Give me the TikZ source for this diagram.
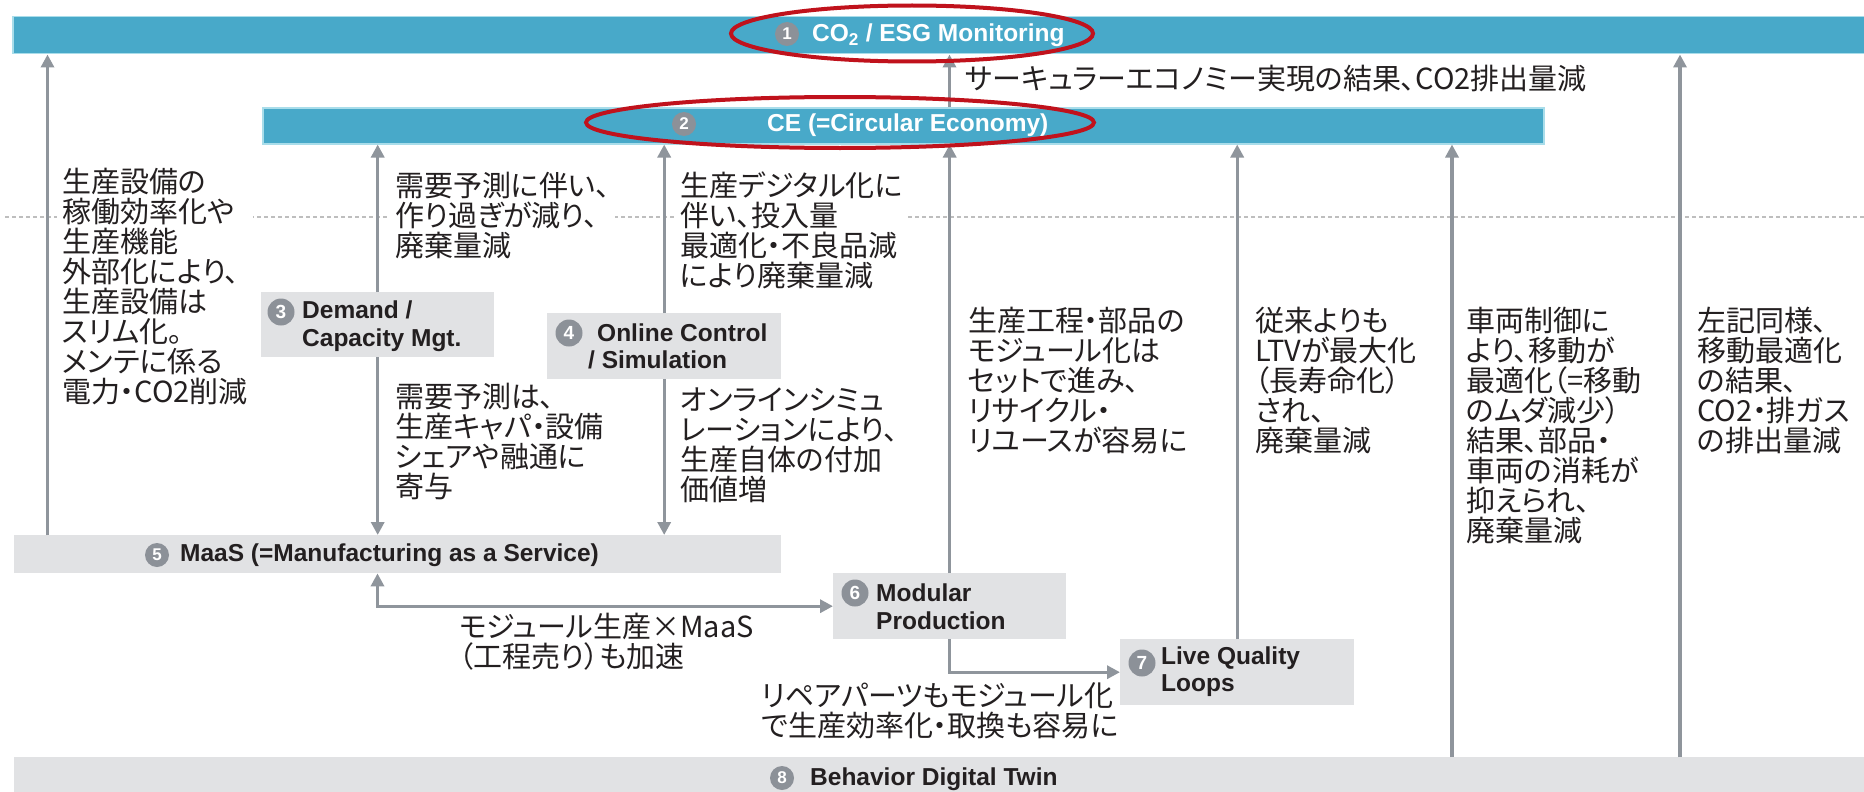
\documentclass[tikz,border=0pt]{standalone}
\usepackage{fontspec}
\setmainfont{Liberation Sans}
\newfontfamily\jpf[RawFeature=+palt]{Noto Sans CJK JP}
\usetikzlibrary{arrows.meta}
\definecolor{barblue}{HTML}{48A9C9}
\definecolor{baredge}{HTML}{A9DDEA}
\definecolor{boxgray}{HTML}{E1E2E4}
\definecolor{badgegray}{HTML}{8C9198}
\definecolor{arrowgray}{HTML}{8F959C}
\definecolor{ringred}{HTML}{C0121C}
\definecolor{dashgray}{HTML}{BEBEBE}
\definecolor{inkblack}{HTML}{231F20}
\begin{document}
\begin{tikzpicture}[x=1pt,y=-1pt,
  bluebar/.style={rectangle, fill=barblue, draw=baredge, line width=1.5pt, inner sep=0pt, anchor=north west},
  graybox/.style={rectangle, fill=boxgray, inner sep=0pt, anchor=north west},
  badge/.style={circle, fill=badgegray, text=white, inner sep=0pt, minimum size=27pt, font=\fontsize{19}{19}\selectfont\bfseries},
  smallbadge/.style={badge, minimum size=24pt, font=\fontsize{17}{17}\selectfont\bfseries},
  bartext/.style={anchor=west, inner sep=0pt, text=white, font=\fontsize{24.5}{27}\selectfont\bfseries},
  boxtext/.style={anchor=west, inner sep=0pt, align=left, text=inkblack, font=\fontsize{24.5}{27.5}\selectfont\bfseries},
  lowtext/.style={boxtext, text=inkblack},
  note/.style={anchor=north west, inner sep=5pt, fill=white, align=left, text=inkblack, font=\jpf\fontsize{29}{30}\selectfont},
  arr/.style={draw=arrowgray, line width=3.3pt, -{Triangle[length=13pt,width=13pt]}},
  arrboth/.style={draw=arrowgray, line width=3.3pt, {Triangle[length=13pt,width=13pt]}-{Triangle[length=13pt,width=13pt]}},
  dashline/.style={draw=dashgray, line width=1.2pt, dash pattern=on 4pt off 3pt},
  ring/.style={draw=ringred, line width=4pt}
]
\useasboundingbox (0,0) rectangle (1864,792);
\fill[white] (0,0) rectangle (1864,792);

% dashed guide line
\coordinate (dl) at (5,217);
\coordinate (dr) at (1864,217);
\draw[dashline] (dl) -- (dr);

% explanatory texts
\node[note] (tleft) at (57,163) {生産設備の\\稼働効率化や\\生産機能\\外部化により、\\生産設備は\\スリム化。\\メンテに係る\\電力・CO2削減};
\node[note] (t3a) at (390,167) {需要予測に伴い、\\作り過ぎが減り、\\廃棄量減};
\node[note] (t3b) at (390,378) {需要予測は、\\生産キャパ・設備\\シェアや融通に\\寄与};
\node[note] (t4a) at (675,167) {生産デジタル化に\\伴い、投入量\\最適化・不良品減\\により廃棄量減};
\node[note] (t4b) at (675,383) {オンラインシミュ\\レーションにより、\\生産自体の付加\\価値増};
\node[note] (t6) at (963,302) {生産工程・部品の\\モジュール化は\\セットで進み、\\リサイクル・\\リユースが容易に};
\node[note] (t7) at (1250,302) {従来よりも\\LTVが最大化\\（長寿命化）\\され、\\廃棄量減};
\node[note] (t8a) at (1461,302) {車両制御に\\より、移動が\\最適化（=移動\\のムダ減少）\\結果、部品・\\車両の消耗が\\抑えられ、\\廃棄量減};
\node[note] (t8b) at (1692,302) {左記同様、\\移動最適化\\の結果、\\CO2・排ガス\\の排出量減};
\node[note] (t56) at (454,608) {モジュール生産×MaaS\\（工程売り）も加速};
\node[note] (t67) at (756,677) {リペアパーツもモジュール化\\で生産効率化・取換も容易に};
\node[note] (ttop) at (960,60) {サーキュラーエコノミー実現の結果、CO2排出量減};

% bars and boxes
\node[bluebar, minimum width=1860pt, minimum height=37pt] (b1) at (12,16) {};
\node[bluebar, minimum width=1281pt, minimum height=36pt] (b2) at (262,107) {};
\node[graybox, minimum width=233pt, minimum height=65pt] (box3) at (261,292) {};
\node[graybox, minimum width=234pt, minimum height=66pt] (box4) at (547,313) {};
\node[graybox, minimum width=767pt, minimum height=38pt] (b5) at (14,535) {};
\node[graybox, minimum width=233pt, minimum height=66pt] (box6) at (833,573) {};
\node[graybox, minimum width=234pt, minimum height=66pt] (box7) at (1120,639) {};
\node[graybox, minimum width=1860pt, minimum height=50pt] (b8) at (14,757) {};

% badges and labels
\node[smallbadge] (n1) at (787,34) {1};
\node[bartext] (l1) at (812,35) {CO\textsubscript{2} / ESG Monitoring};
\node[smallbadge] (n2) at (684,124) {2};
\node[bartext] (l2) at (767,125) {CE (=Circular Economy)};
\node[badge] (n3) at (281,312) {3};
\node[boxtext] (l3) at (302,326) {Demand /\\Capacity Mgt.};
\node[badge] (n4) at (569,333) {4};
\node[boxtext] (l4) at (597,346.5) {Online Control\\\hspace{-9pt}/ Simulation};
\node[smallbadge] (n5) at (157,555) {5};
\node[lowtext] (l5) at (180,555) {MaaS (=Manufacturing as a Service)};
\node[badge] (n6) at (855,593) {6};
\node[boxtext] (l6) at (876,606.5) {Modular\\Production};
\node[badge] (n7) at (1142,663) {7};
\node[boxtext] (l7) at (1161,671.5) {Live Quality\\Loops};
\node[smallbadge] (n8) at (782,778) {8};
\node[lowtext] (l8) at (810,779) {Behavior Digital Twin};

% connectors
\coordinate (xl) at (47.5,0);
\coordinate (xmid) at (949.5,0);
\coordinate (x5) at (377.5,0);
\coordinate (x8a) at (1452,0);
\coordinate (x8b) at (1680,0);
\draw[arr] (xl |- b5.north) -- (xl |- b1.south);
\draw[arr] (box3.north) -- (box3.north |- b2.south);
\draw[arr] (box3.south) -- (box3.south |- b5.north);
\draw[arr] (box4.north) -- (box4.north |- b2.south);
\draw[arr] (box4.south) -- (box4.south |- b5.north);
\draw[arr] (xmid |- b2.north) -- (xmid |- b1.south);
\draw[arr] (box6.north) -- (box6.north |- b2.south);
\draw[arrboth] (x5 |- b5.south) |- (box6.west);
\draw[arr] (box6.south) |- (box7.west);
\draw[arr] (box7.north) -- (box7.north |- b2.south);
\draw[arr] (x8a |- b8.north) -- (x8a |- b2.south);
\draw[arr] (x8b |- b8.north) -- (x8b |- b1.south);

% red highlight rings
\draw[ring] (912,33.5) ellipse [x radius=181pt, y radius=28pt];
\draw[ring] (840,122.5) ellipse [x radius=254pt, y radius=25.5pt];
\end{tikzpicture}
\end{document}
